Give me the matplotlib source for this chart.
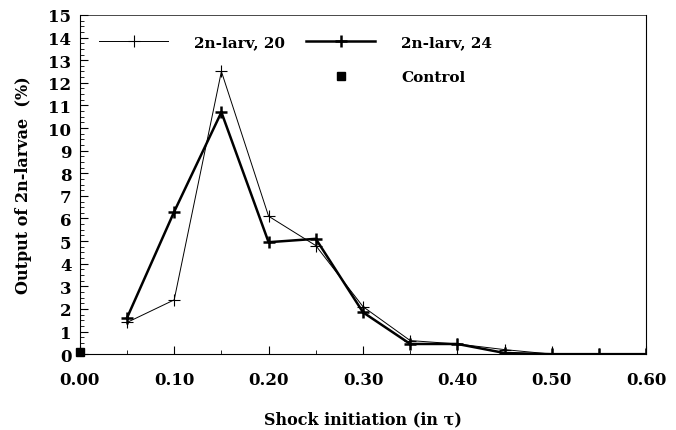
import matplotlib.pyplot as plt
from matplotlib.lines import Line2D
from matplotlib.ticker import MultipleLocator

plt.rcParams['font.family'] = ['DejaVu Serif']
plt.rcParams['font.weight'] = 'bold'

# data
shock = [0.05, 0.10, 0.15, 0.20, 0.25, 0.30, 0.35, 0.40, 0.45, 0.50, 0.55, 0.60]
larv20 = [1.4, 2.4, 12.5, 6.1, 4.8, 2.1, 0.6, 0.45, 0.2, 0.0, 0.0, 0.0]
larv24 = [1.6, 6.3, 10.7, 4.95, 5.1, 1.85, 0.45, 0.45, 0.05, 0.0, 0.0, 0.0]
control_x = [0.0]
control_y = [0.1]

fig = plt.figure(figsize=(6.76, 4.31), dpi=100)
ax = fig.add_axes([0.118, 0.176, 0.838, 0.787])

l20, = ax.plot(shock, larv20, color='black', lw=0.7, marker='+', ms=8, mew=0.8)
l24, = ax.plot(shock, larv24, color='black', lw=1.8, marker='+', ms=8, mew=1.8)
lc, = ax.plot(control_x, control_y, 's', color='black', ms=6, clip_on=False, zorder=5)

ax.set_xlim(0, 0.6)
ax.set_ylim(0, 15)
ax.xaxis.set_major_locator(MultipleLocator(0.1))
ax.xaxis.set_minor_locator(MultipleLocator(0.05))
ax.yaxis.set_major_locator(MultipleLocator(1))
ax.yaxis.set_minor_locator(MultipleLocator(0.25))
ax.set_xticklabels(['%.2f' % v for v in ax.get_xticks()])
ax.tick_params(which='both', direction='in', labelsize=12)
ax.tick_params(which='major', length=6, width=0.8)
ax.tick_params(which='minor', length=3, width=0.6)
ax.tick_params(axis='x', pad=12)
ax.tick_params(axis='y', pad=6)
for sp in ax.spines.values():
    sp.set_linewidth(0.8)
ax.spines['top'].set_linewidth(0.5)

for lab in ax.get_xticklabels() + ax.get_yticklabels():
    lab.set_fontweight('bold')

ax.set_xlabel('Shock initiation (in \u03c4)', fontsize=11.5, fontweight='bold', labelpad=16)
ax.set_ylabel('Output of 2n-larvae  (%)', fontsize=11.5, fontweight='bold', labelpad=12)

blank = Line2D([], [], linestyle='none')
leg = ax.legend([l20, blank, l24, lc], ['2n-larv, 20', '', '2n-larv, 24', 'Control'],
                ncol=2, loc='upper left', frameon=False, numpoints=1,
                handlelength=4.5, handletextpad=1.7, columnspacing=1.4, labelspacing=1.35,
                bbox_to_anchor=(0.01, 0.98), prop={'weight': 'bold', 'size': 11})

fig.savefig('out.png', dpi=100)
